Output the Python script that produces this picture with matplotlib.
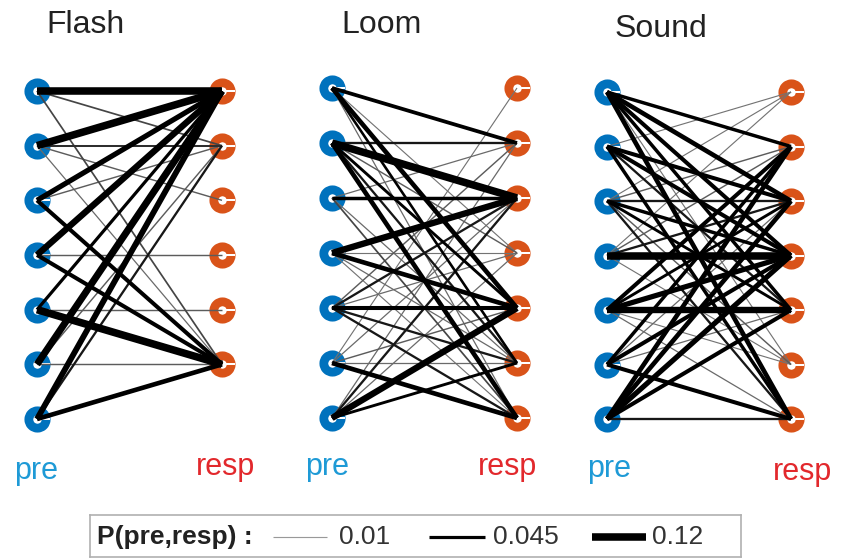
import matplotlib
matplotlib.use("Agg")
import matplotlib.pyplot as plt
import numpy as np

plt.rcParams['font.family'] = ['Liberation Sans', 'DejaVu Sans']

W, H, DPI = 845, 560, 100

# ---------------- data ----------------
panel_titles = ["Flash", "Loom", "Sound"]
n_pre = [7, 7, 7]
n_resp = [6, 7, 7]

flash_pre = [0, 0, 0, 1, 1, 1, 1, 2, 2, 2, 3, 3, 3, 4, 4, 4, 5, 5, 5, 6, 6, 6]
flash_resp = [0, 1, 5, 0, 1, 2, 5, 0, 1, 5, 0, 3, 5, 0, 4, 5, 0, 5, 1, 0, 5, 1]
flash_prob = [0.12, 0.02, 0.02, 0.12, 0.025, 0.015, 0.012, 0.08, 0.015, 0.06,
              0.10, 0.015, 0.06, 0.045, 0.015, 0.12, 0.11, 0.015, 0.015,
              0.09, 0.07, 0.03]

loom_pre = [0, 0, 0, 0, 0,
            1, 1, 1, 1, 1, 1,
            2, 2, 2, 2,
            3, 3, 3, 3, 3,
            4, 4, 4, 4, 4, 4,
            5, 5, 5, 5, 5,
            6, 6, 6, 6, 6]
loom_resp = [1, 4, 5, 3, 6,
             1, 2, 6, 4, 5, 3,
             2, 1, 6, 5,
             2, 3, 4, 5, 6,
             4, 1, 2, 3, 5, 6,
             6, 4, 5, 2, 0,
             4, 5, 2, 1, 3]
loom_prob = [0.055, 0.07, 0.035, 0.01, 0.012,
             0.03, 0.12, 0.07, 0.04, 0.03, 0.015,
             0.05, 0.012, 0.02, 0.012,
             0.10, 0.01, 0.07, 0.012, 0.01,
             0.06, 0.015, 0.03, 0.012, 0.03, 0.03,
             0.07, 0.015, 0.012, 0.012, 0.01,
             0.10, 0.04, 0.03, 0.012, 0.012]

sound_pre = [0, 0, 0, 0, 0, 0,
             1, 1, 1, 1, 1,
             2, 2, 2, 2, 2, 2, 2,
             3, 3, 3, 3, 3,
             4, 4, 4, 4, 4, 4,
             5, 5, 5, 5, 5,
             6, 6, 6, 6, 6]
sound_resp = [1, 2, 3, 6, 4, 5,
              2, 3, 6, 0, 4,
              0, 1, 2, 3, 4, 5, 6,
              3, 0, 1, 2, 5,
              4, 3, 1, 2, 5, 6,
              6, 1, 3, 2, 4,
              6, 1, 2, 3, 4]
sound_prob = [0.05, 0.07, 0.06, 0.07, 0.05, 0.01,
              0.06, 0.06, 0.05, 0.01, 0.03,
              0.01, 0.015, 0.03, 0.05, 0.04, 0.015, 0.03,
              0.12, 0.01, 0.015, 0.03, 0.01,
              0.10, 0.08, 0.06, 0.04, 0.01, 0.012,
              0.06, 0.05, 0.06, 0.012, 0.012,
              0.03, 0.07, 0.07, 0.08, 0.06]

legend_probs = [0.01, 0.045, 0.12]
legend_labels = ["0.01", "0.045", "0.12"]

edges = [(flash_pre, flash_resp, flash_prob),
         (loom_pre, loom_resp, loom_prob),
         (sound_pre, sound_resp, sound_prob)]

# ---------------- style ----------------
PRE_NODE = "#0072BD"
RESP_NODE = "#D95319"
PRE_TXT = "#1E9AD6"
RESP_TXT = "#E2282C"


def lw_of(p):
    return 0.4 + 42.0 * p


def col_of(p):
    g = float(np.clip(0.45 * (1 - (p - 0.01) / 0.025), 0, 0.45))
    return (g, g, g)


# notch marker (thin white gap on the right side of the ring)
notch = [(0.3, -0.06), (1.0, -0.06), (1.0, 0.06), (0.3, 0.06)]

# pixel layout of node columns: (x_pre, x_resp, y_first, y_last)
layout = [(37, 222, 91, 419), (332, 517, 88, 418), (607, 791, 92, 419)]
title_pos = [(86, 25), (382, 25), (661, 29)]
pre_lab = [(36, 471), (327, 467), (609, 469)]
resp_lab = [(226, 467), (508, 467), (803, 472)]

fig = plt.figure(figsize=(W / DPI, H / DPI), dpi=DPI)

for k in range(3):
    x0, x1, y0, y6 = layout[k]
    xpad, ypad = 0.2, 0.5
    ux = x1 - x0
    uy = (y6 - y0) / 6.0
    left = x0 - xpad * ux
    width = (1 + 2 * xpad) * ux
    top = y0 - ypad * uy
    height = (6 + 2 * ypad) * uy
    ax = fig.add_axes([left / W, 1 - (top + height) / H, width / W, height / H])
    ax.set_xlim(-xpad, 1 + xpad)
    ax.set_ylim(6 + ypad, -ypad)
    ax.axis('off')

    pre_y = np.arange(n_pre[k])
    resp_y = np.arange(n_resp[k])
    for xs, ys, c in ((np.zeros_like(pre_y), pre_y, PRE_NODE),
                      (np.ones_like(resp_y), resp_y, RESP_NODE)):
        ax.plot(xs, ys, 'o', ms=12.5, mew=6.3, mfc='white', mec=c,
                zorder=1, clip_on=False)
        ax.plot(xs, ys, linestyle='none', marker=notch, ms=18.5, mew=0,
                mfc='white', zorder=1.5, clip_on=False)

    pi, ri, pr = edges[k]
    order = np.argsort(pr)
    for idx in order:
        p = pr[idx]
        ax.plot([0, 1], [pi[idx], ri[idx]], '-', color=col_of(p), lw=lw_of(p),
                solid_capstyle='butt', zorder=2, clip_on=False)

    tx, ty = title_pos[k]
    fig.text(tx / W, 1 - ty / H, panel_titles[k], ha='center', va='center',
             fontsize=23, color='#222222')
    px, py = pre_lab[k]
    fig.text(px / W, 1 - py / H, "pre", ha='center', va='center',
             fontsize=22, color=PRE_TXT)
    rx, ry = resp_lab[k]
    fig.text(rx / W, 1 - ry / H, "resp", ha='center', va='center',
             fontsize=22, color=RESP_TXT)

# ---------------- legend ----------------
bx0, bx1, by0, by1 = 90, 741, 515, 557
lax = fig.add_axes([bx0 / W, 1 - by1 / H, (bx1 - bx0) / W, (by1 - by0) / H])
lax.set_xlim(bx0, bx1)
lax.set_ylim(by1, by0)
lax.set_xticks([])
lax.set_yticks([])
for s in lax.spines.values():
    s.set_edgecolor('#b0b0b0')
    s.set_linewidth(1.2)
ymid = (by0 + by1) / 2 + 1
lax.text(97, ymid, "P(pre,resp) :", ha='left', va='center', fontsize=19,
         fontweight='bold', color='#222222')
seg = [(273, 327), (429, 485), (592, 646)]
labx = [339, 493, 652]
for p, lab, (sx0, sx1), lx in zip(legend_probs, legend_labels, seg, labx):
    c = '#999999' if p < 0.02 else 'black'
    lax.plot([sx0, sx1], [ymid, ymid], '-', color=c, lw=lw_of(p),
             solid_capstyle='butt')
    lax.text(lx, ymid, lab, ha='left', va='center', fontsize=19, color='#333333')

fig.savefig("out.png", dpi=DPI)
